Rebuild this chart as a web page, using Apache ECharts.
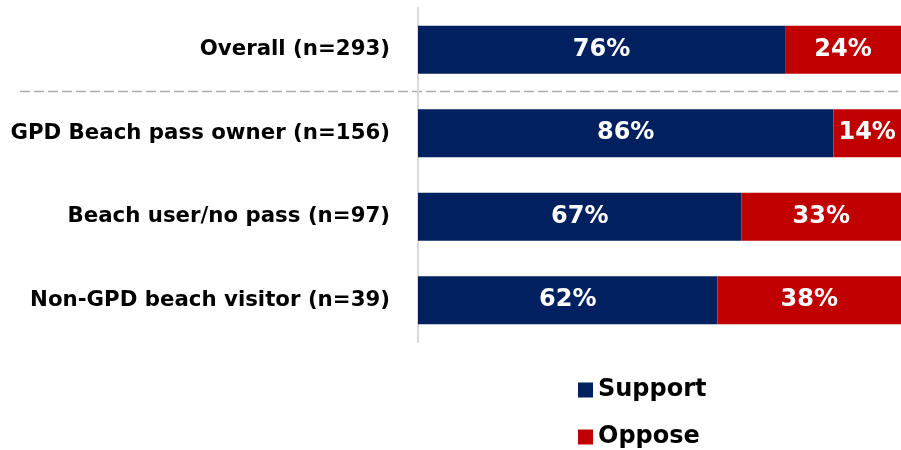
<!DOCTYPE html>
<html><head><meta charset="utf-8">
<script src="https://cdn.jsdelivr.net/npm/echarts@6/dist/echarts.min.js"></script>
<style>html,body{margin:0;padding:0;background:#fff}#c{width:901px;height:450px}</style>
</head><body><div id="c"></div>
<script>
const categories = ['Overall (n=293)', 'GPD Beach pass owner (n=156)', 'Beach user/no pass (n=97)', 'Non-GPD beach visitor (n=39)'];
const support = [76, 86, 67, 62];
const oppose = [24, 14, 33, 38];
const seriesNames = ['Support', 'Oppose'];

const chart = echarts.init(document.getElementById('c'));
const font = 'DejaVu Sans, Verdana, sans-serif';
const lbl = {show: true, position: 'inside', color: '#fff', fontSize: 24, fontWeight: 'bold', fontFamily: font, formatter: p => p.value + '%'};
chart.setOption({
  animation: false,
  grid: {left: 418, right: 0, top: 8, bottom: 108, containLabel: false},
  xAxis: {type: 'value', min: 0, max: 100, show: false},
  yAxis: {type: 'category', inverse: true, data: categories,
    axisLine: {show: true, lineStyle: {color: '#d9d9d9', width: 2}},
    axisTick: {show: false},
    axisLabel: {color: '#000', fontSize: 21.3, fontWeight: 'bold', fontFamily: font, margin: 28, padding: [3,0,0,0]}},
  legend: {orient: 'vertical', left: 578, top: 378, bottom: 0, padding: 0, itemWidth: 15, itemHeight: 15, itemGap: 23, icon: 'rect',
    textStyle: {color: '#000', fontSize: 24, fontWeight: 'bold', fontFamily: font, lineHeight: 24, padding: 0},
    data: seriesNames},
  series: [
    {name: seriesNames[0], type: 'bar', stack: 's', data: support, barWidth: 48, itemStyle: {color: '#002060'}, label: lbl},
    {name: seriesNames[1], type: 'bar', stack: 's', data: oppose, barWidth: 48, itemStyle: {color: '#C00000'}, label: lbl}
  ]
});
const y0 = chart.convertToPixel({yAxisIndex: 0}, categories[0]);
const y1 = chart.convertToPixel({yAxisIndex: 0}, categories[1]);
const ym = Math.round((y0 + y1) / 2) - 0.5;
chart.setOption({graphic: [{type: 'line', shape: {x1: 20, y1: ym, x2: 901, y2: ym},
  style: {stroke: '#adadad', lineWidth: 1.5, lineDash: [10, 4]}}]});
</script></body></html>
